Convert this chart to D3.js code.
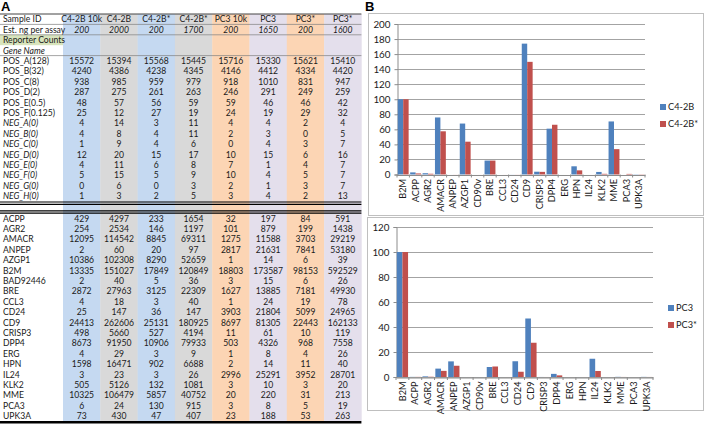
<!DOCTYPE html>
<html><head><meta charset="utf-8">
<script src="https://cdn.jsdelivr.net/npm/d3@7"></script>
<style>
html,body{margin:0;padding:0;background:#fff;}
svg{display:block;font-family:Lato,"Open Sans",sans-serif;}
</style></head>
<body>
<svg id="fig" width="708" height="424"></svg>
<script>
// ---------- Panel A data ----------
const sampleIds = ["C4-2B 10k","C4-2B","C4-2B*","C4-2B*","PC3 10k","PC3","PC3*","PC3*"];
const ngPerAssay = ["200","2000","200","1700","200","1650","200","1600"];
const posLabels = ["POS_A(128)","POS_B(32)","POS_C(8)","POS_D(2)","POS_E(0.5)","POS_F(0.125)"];
const posValues = [
  [15572,15394,15568,15445,15716,15330,15621,15410],
  [4240,4386,4238,4345,4146,4412,4334,4420],
  [938,985,959,979,918,1010,831,947],
  [287,275,261,263,246,291,249,259],
  [48,57,56,59,59,46,46,42],
  [25,12,27,19,24,19,29,32]
];
const negLabels = ["NEG_A(0)","NEG_B(0)","NEG_C(0)","NEG_D(0)","NEG_E(0)","NEG_F(0)","NEG_G(0)","NEG_H(0)"];
const negValues = [
  [4,14,3,11,4,4,2,4],
  [4,8,4,11,2,3,0,5],
  [1,9,4,6,0,4,3,7],
  [12,20,15,17,10,15,6,16],
  [4,11,6,8,7,1,4,7],
  [5,15,5,9,10,4,5,7],
  [0,6,0,3,2,1,3,7],
  [1,3,2,5,3,4,2,13]
];
const geneNames = ["ACPP","AGR2","AMACR","ANPEP","AZGP1","B2M","BAD92446","BRE","CCL3","CD24","CD9","CRISP3","DPP4","ERG","HPN","IL24","KLK2","MME","PCA3","UPK3A"];
const geneCounts = [
  [429,4297,233,1654,32,197,84,591],
  [254,2534,146,1197,101,879,199,1438],
  [12095,114542,8845,69311,1275,11588,3703,29219],
  [2,60,20,97,2817,21631,7841,53180],
  [10386,102308,8290,52659,1,14,6,39],
  [13335,151027,17849,120849,18803,173587,98153,592529],
  [2,40,5,36,3,15,6,26],
  [2872,27963,3125,22309,1627,13885,7181,49930],
  [4,18,3,40,1,24,19,78],
  [25,147,36,147,3903,21804,5099,24965],
  [24413,262606,25131,180925,8697,81305,22443,162133],
  [498,5660,527,4194,11,61,10,119],
  [8673,91950,10906,79933,503,4326,968,7558],
  [4,29,3,9,1,8,4,26],
  [1598,16471,902,6688,2,14,11,40],
  [3,23,3,26,2996,25291,3952,28701],
  [505,5126,132,1081,3,10,3,20],
  [10325,106479,5857,40752,20,220,31,213],
  [6,24,130,915,3,8,5,19],
  [73,430,47,407,23,188,53,263]
];
const columnColors = ["#c5d9f1","#d9d9d9","#c5d9f1","#d9d9d9","#fcd5b4","#e4dfec","#fcd5b4","#e4dfec"];

// ---------- Panel B data ----------
const categories = ["B2M","ACPP","AGR2","AMACR","ANPEP","AZGP1","CD90v","BRE","CCL3","CD24","CD9","CRISP3","DPP4","ERG","HPN","IL24","KLK2","MME","PCA3","UPK3A"];
const c42b     = [100,2.8,1.7,75.8,0.04,67.7,0.03,18.5,0.01,0.1,173.9,3.7,60.9,0.02,10.9,0.02,3.4,70.5,0.02,0.3];
const c42bStar = [100,1.4,1.0,57.4,0.08,43.6,0.03,18.5,0.03,0.1,149.7,3.5,66.1,0.01,5.5,0.02,0.9,33.7,0.8,0.3];
const pc3      = [100,0.1,0.5,6.7,12.5,0.01,0.01,8.0,0.01,12.6,46.8,0.04,2.5,0,0.01,14.6,0.01,0.13,0,0.1];
const pc3Star  = [100,0.1,0.2,4.9,9.0,0.01,0,8.4,0.01,4.2,27.4,0.02,1.3,0,0.01,4.8,0,0.04,0,0.04];
const topTicks = [0,20,40,60,80,100,120,140,160,180,200];
const bottomTicks = [0,20,40,60,80,100,120];
const seriesColors = ["#4f81bd","#c0504d"];

const svg = d3.select("#fig");
const fs = 8.6;

// ================= PANEL A =================
const labelW = 63, tableRight = 361.4;
const xCol = d3.scaleBand().domain(d3.range(8)).range([labelW, tableRight]).padding(0);
const top0 = 14, rh = 10.4;
const gap0 = top0 + 18*rh;   // after NEG_H
const geneTop = 213.2;
const tableBottom = geneTop + 20*rh;

svg.append("text").attr("x",1).attr("y",11).attr("font-size",13).attr("font-weight",700).attr("font-family","Arial, sans-serif").text("A");

const gA = svg.append("g");
gA.selectAll("rect.col").data(d3.range(8)).join("rect")
  .attr("x", i => xCol(i)).attr("y", top0).attr("width", xCol.bandwidth()+0.3).attr("height", tableBottom - top0)
  .attr("fill", i => columnColors[i]);
gA.append("rect").attr("x",0).attr("y",top0+2*rh).attr("width",labelW).attr("height",rh).attr("fill","#d8e4bc");

const rows = [];
rows.push({label:"Sample ID", vals:sampleIds, y: top0, type:"head"});
rows.push({label:"Est. ng per assay", vals:ngPerAssay, y: top0+rh, type:"ng"});
rows.push({label:"Reporter Counts", vals:null, y: top0+2*rh, type:"plain"});
rows.push({label:"Gene Name", vals:null, y: top0+3*rh, type:"ital"});
posLabels.forEach((l,i)=>rows.push({label:l, vals:posValues[i], y: top0+(4+i)*rh, type:"plain"}));
negLabels.forEach((l,i)=>rows.push({label:l, vals:negValues[i], y: top0+(10+i)*rh, type:"neg"}));
geneNames.forEach((l,i)=>rows.push({label:l, vals:geneCounts[i], y: geneTop+i*rh, type:"plain"}));

rows.forEach(r => {
  const yy = r.y + rh/2 + 3.1;
  gA.append("text").attr("x",3).attr("y",yy).attr("font-size",fs)
    .attr("fill","#1a1a1a")
    .attr("font-style",(r.type==="ital"||r.type==="neg")?"italic":"normal")
    .text(r.label);
  if (r.vals) {
    gA.selectAll(null).data(r.vals).join("text")
      .attr("x",(d,i)=>xCol(i)+xCol.bandwidth()/2).attr("y",yy)
      .attr("text-anchor","middle").attr("font-size",fs).attr("fill","#1a1a1a")
      .attr("font-style", r.type==="ng"?"italic":"normal")
      .text(d=>d);
  }
});
[top0, top0+rh, top0+2*rh, top0+4*rh].forEach((y,i)=>{
  gA.append("line").attr("x1",0).attr("x2",tableRight).attr("y1",y).attr("y2",y)
    .attr("stroke", i===0?"#444":"#7f7f7f").attr("stroke-width", i===0?1:0.7);
});
[gap0+0.8, gap0+3.2, geneTop-2.4, geneTop].forEach(y=>{
  gA.append("line").attr("x1",0).attr("x2",tableRight).attr("y1",y).attr("y2",y)
    .attr("stroke","#000").attr("stroke-width",1.2);
});
gA.append("line").attr("x1",0).attr("x2",tableRight).attr("y1",tableBottom+1).attr("y2",tableBottom+1)
  .attr("stroke","#000").attr("stroke-width",2.4);

// ================= PANEL B =================
svg.append("text").attr("x",365).attr("y",11).attr("font-size",13).attr("font-weight",700).attr("font-family","Arial, sans-serif").text("B");

function chart(opts){
  const g = svg.append("g");
  g.append("rect").attr("x",opts.box[0]+0.5).attr("y",opts.box[1]+0.5)
    .attr("width",opts.box[2]-opts.box[0]).attr("height",opts.box[3]-opts.box[1])
    .attr("fill","#fff").attr("stroke","#bfbfbf").attr("stroke-width",1);
  const x = d3.scaleBand().domain(categories).range(opts.xr);
  const y = d3.scaleLinear().domain([0,opts.max]).range(opts.yr);
  g.selectAll("line.grid").data(opts.ticks).join("line")
    .attr("x1",opts.xr[0]).attr("x2",opts.xr[1])
    .attr("y1",d=>Math.round(y(d))+0.5).attr("y2",d=>Math.round(y(d))+0.5)
    .attr("stroke","#8c8c8c").attr("stroke-width",0.8);
  const ya = d3.axisLeft(y).tickValues(opts.ticks).tickSize(3).tickPadding(4);
  const yg = g.append("g").attr("transform",`translate(${opts.xr[0]+0.5},0)`).call(ya);
  yg.select(".domain").attr("stroke","#8c8c8c");
  yg.selectAll(".tick line").attr("stroke","#8c8c8c");
  yg.selectAll(".tick text").attr("font-size",9.8).attr("fill","#1a1a1a").attr("font-family","Lato, sans-serif");
  const inner = d3.scaleBand().domain([0,1]).range([0,x.bandwidth()]).paddingOuter(0.14).paddingInner(0);
  opts.series.forEach((s,si)=>{
    g.selectAll(null).data(s).join("rect")
      .attr("x",(d,i)=>x(categories[i])+inner(si))
      .attr("width",inner.bandwidth())
      .attr("y",d=>y(d)).attr("height",d=>y(0)-y(d))
      .attr("fill",seriesColors[si]);
  });
  const xa = d3.axisBottom(x).tickSize(0).tickPadding(4);
  const xg = g.append("g").attr("transform",`translate(0,${y(0)+0.5})`).call(xa);
  xg.select(".domain").attr("stroke","#8c8c8c");
  xg.selectAll(".tick text").attr("font-size",9.2).attr("fill","#1a1a1a").attr("font-family","Lato, sans-serif")
    .attr("transform","rotate(-90)").attr("text-anchor","end").attr("dx",-4).attr("dy",0).attr("x",0).attr("y",3.2);
  g.selectAll("line.sep").data(categories.concat(["_end"])).join("line")
    .attr("x1",(d,i)=>opts.xr[0]+i*x.step()).attr("x2",(d,i)=>opts.xr[0]+i*x.step())
    .attr("y1",y(0)).attr("y2",y(0)+3).attr("stroke","#8c8c8c");
  opts.names.forEach((n,i)=>{
    const ly = opts.legend[1] + i*17;
    g.append("rect").attr("x",opts.legend[0]).attr("y",ly-6).attr("width",6).attr("height",6).attr("fill",seriesColors[i]);
    g.append("text").attr("x",opts.legend[0]+8).attr("y",ly).attr("font-size",9.2).attr("fill","#1a1a1a").text(n);
  });
}

chart({box:[368,13,703,215], xr:[397,645], yr:[174.5,24], max:200, ticks:topTicks,
  series:[c42b,c42bStar], names:["C4-2B","C4-2B*"], legend:[660,110]});
chart({box:[367,217,703,410], xr:[396,653], yr:[377,227], max:120, ticks:bottomTicks,
  series:[pc3,pc3Star], names:["PC3","PC3*"], legend:[668,311]});
</script>
</body></html>
